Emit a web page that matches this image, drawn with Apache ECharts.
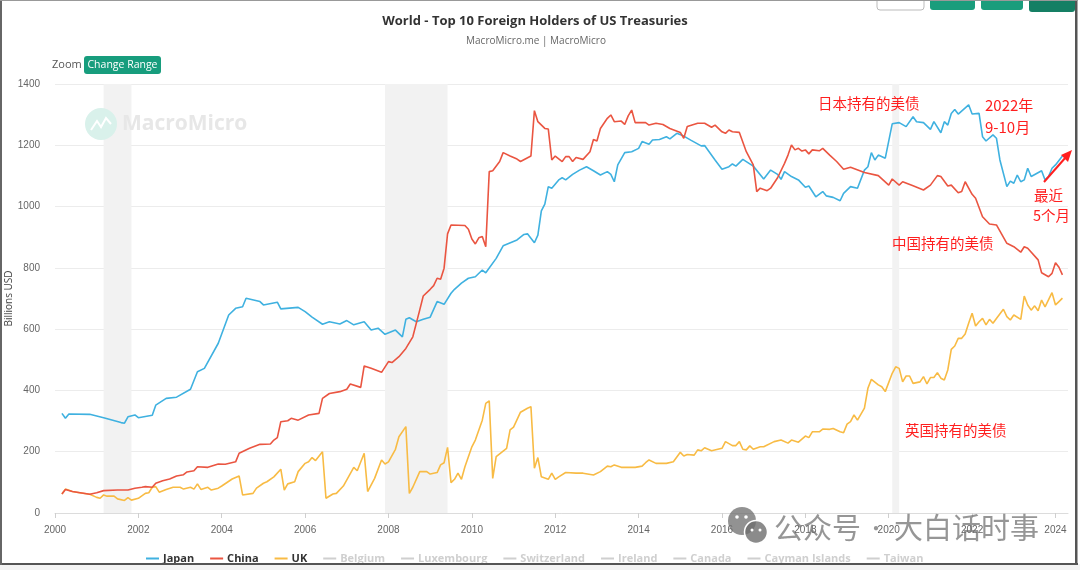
<!DOCTYPE html>
<html>
<head>
<meta charset="utf-8">
<script src="https://cdn.jsdelivr.net/npm/echarts@6/dist/echarts.min.js"></script>
<style>
html,body{margin:0;padding:0;background:#fff;}
#chart{width:1080px;height:570px;}
</style>
</head>
<body>
<div id="chart"></div>
<script>
// ---- data (Billions USD, monthly readings) ----
const japan = [
['2000-03',325],['2000-04',309],['2000-05',323],['2000-11',322],['2001-03',311],['2001-08',295],['2001-09',293],['2001-10',314],['2001-12',320],
['2002-01',311],['2002-05',319],['2002-06',352],['2002-09',374],['2002-12',378],['2003-04',404],['2003-06',461],['2003-08',472],['2003-12',554],
['2004-03',646],['2004-05',668],['2004-07',673],['2004-08',701],['2004-12',690],['2005-01',679],['2005-05',688],['2005-06',666],['2005-11',671],
['2006-01',657],['2006-03',639],['2006-06',616],['2006-08',624],['2006-11',617],['2007-01',628],['2007-03',614],['2007-06',624],['2007-08',597],
['2007-10',603],['2007-12',583],['2008-03',597],['2008-05',575],['2008-06',632],['2008-07',637],['2008-09',624],['2008-11',632],['2009-01',639],
['2009-03',690],['2009-05',681],['2009-07',717],['2009-08',730],['2009-10',750],['2009-12',766],['2010-02',771],['2010-04',793],['2010-05',784],
['2010-08',831],['2010-10',872],['2011-02',891],['2011-04',909],['2011-05',911],['2011-07',882],['2011-08',907],['2011-09',986],['2011-10',1008],
['2011-11',1065],['2011-12',1060],['2012-02',1087],['2012-03',1094],['2012-04',1087],['2012-06',1105],['2012-08',1119],['2012-10',1130],['2012-12',1117],
['2013-02',1103],['2013-04',1114],['2013-05',1105],['2013-06',1081],['2013-07',1136],['2013-09',1176],['2013-11',1179],['2014-01',1190],['2014-02',1212],
['2014-04',1203],['2014-05',1217],['2014-07',1219],['2014-09',1228],['2014-10',1221],['2014-12',1239],['2015-02',1230],['2015-04',1217],['2015-07',1198],
['2015-08',1199],['2015-11',1152],['2016-01',1122],['2016-03',1130],['2016-04',1139],['2016-05',1132],['2016-07',1154],['2016-10',1132],['2017-01',1090],
['2017-03',1119],['2017-05',1105],['2017-06',1089],['2017-07',1114],['2017-09',1098],['2017-11',1087],['2018-01',1063],['2018-02',1067],['2018-04',1032],
['2018-06',1049],['2018-07',1035],['2018-09',1030],['2018-11',1019],['2018-12',1043],['2019-02',1065],['2019-04',1060],['2019-06',1119],['2019-07',1130],
['2019-08',1176],['2019-09',1152],['2019-10',1168],['2019-12',1158],['2020-02',1270],['2020-04',1274],['2020-06',1261],['2020-08',1293],['2020-09',1277],
['2020-11',1274],['2021-01',1252],['2021-02',1277],['2021-04',1241],['2021-05',1277],['2021-06',1266],['2021-07',1304],['2021-08',1317],['2021-09',1302],
['2021-12',1332],['2022-01',1302],['2022-03',1304],['2022-04',1228],['2022-05',1214],['2022-07',1234],['2022-08',1223],['2022-09',1152],['2022-11',1065],
['2022-12',1083],['2023-01',1076],['2023-02',1103],['2023-03',1081],['2023-04',1087],['2023-05',1125],['2023-06',1098],['2023-09',1117],['2023-10',1087],
['2023-11',1098],['2023-12',1125],['2024-01',1136],['2024-03',1165]
];
const china = [
['2000-03',62],['2000-04',77],['2000-06',70],['2000-11',61],['2001-01',66],['2001-03',73],['2001-07',75],['2001-10',75],['2001-12',81],
['2002-02',84],['2002-03',86],['2002-05',84],['2002-06',97],['2002-08',105],['2002-10',111],['2002-12',121],['2003-02',125],['2003-03',134],
['2003-05',138],['2003-06',151],['2003-09',149],['2003-12',160],['2004-02',159],['2004-05',167],['2004-06',195],['2004-09',211],['2004-12',224],
['2005-03',225],['2005-04',238],['2005-05',246],['2005-06',298],['2005-08',301],['2005-09',309],['2005-11',303],['2006-02',320],['2006-05',325],
['2006-06',374],['2006-08',390],['2006-11',396],['2007-01',404],['2007-02',421],['2007-05',410],['2007-06',480],['2007-08',472],['2007-11',459],
['2008-01',494],['2008-02',491],['2008-04',510],['2008-06',537],['2008-08',575],['2008-10',663],['2008-11',708],['2009-01',730],['2009-02',742],
['2009-03',766],['2009-04',763],['2009-05',799],['2009-06',911],['2009-07',940],['2009-11',938],['2009-12',926],['2010-01',894],['2010-02',878],
['2010-03',898],['2010-04',902],['2010-05',869],['2010-06',1114],['2010-07',1117],['2010-09',1147],['2010-10',1176],['2010-12',1165],['2011-02',1155],
['2011-03',1147],['2011-06',1165],['2011-07',1313],['2011-08',1277],['2011-10',1255],['2011-11',1253],['2011-12',1152],['2012-01',1165],['2012-03',1147],
['2012-04',1163],['2012-05',1163],['2012-06',1147],['2012-07',1160],['2012-09',1154],['2012-11',1179],['2012-12',1219],['2013-01',1214],['2013-02',1255],
['2013-04',1288],['2013-05',1299],['2013-06',1277],['2013-08',1279],['2013-09',1268],['2013-10',1296],['2013-11',1315],['2013-12',1274],['2014-03',1274],
['2014-04',1266],['2014-06',1272],['2014-08',1268],['2014-10',1255],['2015-01',1242],['2015-02',1223],['2015-03',1261],['2015-06',1272],['2015-08',1272],
['2015-10',1259],['2015-11',1266],['2016-01',1244],['2016-02',1239],['2016-03',1250],['2016-04',1244],['2016-06',1242],['2016-08',1179],['2016-10',1136],
['2016-11',1049],['2016-12',1060],['2017-02',1052],['2017-03',1060],['2017-05',1094],['2017-07',1141],['2017-08',1168],['2017-09',1201],['2017-10',1185],
['2017-11',1190],['2017-12',1181],['2018-01',1185],['2018-02',1172],['2018-03',1185],['2018-05',1182],['2018-06',1190],['2018-08',1168],['2018-10',1147],
['2018-12',1122],['2019-02',1128],['2019-06',1111],['2019-10',1101],['2020-01',1070],['2020-02',1090],['2020-04',1070],['2020-05',1081],['2020-08',1068],
['2020-11',1054],['2021-01',1070],['2021-03',1101],['2021-04',1098],['2021-06',1067],['2021-07',1070],['2021-09',1045],['2021-10',1049],['2021-11',1081],
['2022-01',1040],['2022-02',1027],['2022-04',967],['2022-06',943],['2022-08',940],['2022-11',880],['2023-01',869],['2023-03',851],['2023-04',869],
['2023-05',864],['2023-08',826],['2023-09',784],['2023-11',771],['2023-12',782],['2024-01',817],['2024-02',802],['2024-03',777]
];
const uk = [
['2000-03',62],['2000-04',78],['2000-06',70],['2000-08',66],['2000-11',61],['2001-01',51],['2001-02',48],['2001-03',59],['2001-04',55],
['2001-06',55],['2001-07',46],['2001-09',41],['2001-10',50],['2001-11',42],['2002-01',48],['2002-03',64],['2002-04',66],['2002-05',84],
['2002-06',86],['2002-07',68],['2002-09',77],['2002-11',84],['2003-01',84],['2003-02',78],['2003-04',84],['2003-05',78],['2003-06',95],
['2003-07',77],['2003-09',84],['2003-10',75],['2003-12',81],['2004-01',88],['2004-04',111],['2004-06',121],['2004-07',59],['2004-10',64],
['2004-11',81],['2005-01',97],['2005-02',102],['2005-04',118],['2005-06',143],['2005-07',75],['2005-08',95],['2005-10',102],['2005-11',135],
['2006-01',162],['2006-02',167],['2006-03',181],['2006-04',171],['2006-06',200],['2006-07',48],['2006-09',62],['2006-10',64],['2006-12',88],
['2007-03',149],['2007-04',138],['2007-06',195],['2007-07',70],['2007-09',113],['2007-11',173],['2007-12',160],['2008-01',167],['2008-03',208],
['2008-04',249],['2008-06',282],['2008-07',64],['2008-08',84],['2008-10',135],['2008-12',135],['2009-01',127],['2009-03',132],['2009-04',157],
['2009-05',164],['2009-06',214],['2009-07',99],['2009-08',110],['2009-09',130],['2009-10',110],['2009-11',151],['2010-01',216],['2010-02',238],
['2010-04',303],['2010-05',358],['2010-06',366],['2010-07',113],['2010-08',184],['2010-09',193],['2010-11',211],['2010-12',271],['2011-01',280],
['2011-03',329],['2011-05',342],['2011-06',347],['2011-07',146],['2011-08',181],['2011-09',118],['2011-11',110],['2011-12',130],['2012-01',110],
['2012-02',118],['2012-04',132],['2012-07',130],['2012-09',130],['2012-12',124],['2013-02',135],['2013-04',153],['2013-05',151],['2013-06',157],
['2013-08',149],['2013-12',149],['2014-02',153],['2014-03',164],['2014-04',173],['2014-06',162],['2014-09',162],['2014-11',167],['2015-01',198],
['2015-02',186],['2015-03',191],['2015-05',189],['2015-06',206],['2015-07',203],['2015-08',213],['2015-10',203],['2016-01',211],['2016-02',233],
['2016-04',220],['2016-05',220],['2016-06',233],['2016-07',208],['2016-08',206],['2016-09',219],['2016-10',208],['2016-12',216],['2017-01',216],
['2017-04',233],['2017-06',238],['2017-08',228],['2017-09',238],['2017-11',231],['2018-01',251],['2018-02',246],['2018-03',265],['2018-05',265],
['2018-06',274],['2018-08',273],['2018-09',276],['2018-11',265],['2018-12',262],['2019-01',290],['2019-02',298],['2019-03',320],['2019-04',303],
['2019-06',342],['2019-07',407],['2019-08',436],['2019-10',418],['2019-11',412],['2019-12',396],['2020-02',456],['2020-03',477],['2020-04',472],
['2020-05',428],['2020-06',447],['2020-07',447],['2020-08',423],['2020-10',428],['2020-11',445],['2020-12',421],['2021-01',442],['2021-02',442],
['2021-03',458],['2021-04',440],['2021-05',434],['2021-06',467],['2021-07',534],['2021-08',545],['2021-09',570],['2021-10',570],['2021-11',584],
['2021-12',619],['2022-01',652],['2022-02',610],['2022-03',624],['2022-04',635],['2022-05',614],['2022-06',632],['2022-07',619],['2022-08',635],
['2022-10',665],['2022-11',641],['2022-12',630],['2023-01',646],['2023-03',632],['2023-04',708],['2023-05',679],['2023-06',662],['2023-07',676],
['2023-08',660],['2023-09',695],['2023-10',673],['2023-12',719],['2024-01',679],['2024-02',690],['2024-03',701]
];
const activeNames = ['Japan','China','UK'];
const hiddenNames = ['Belgium','Luxembourg','Switzerland','Ireland','Canada','Cayman Islands','Taiwan'];
const recessions = [['2001-03','2001-11'],['2007-12','2009-06'],['2020-02','2020-04']];
const yTicks = [0,200,400,600,800,1000,1200,1400];
const xYears = [2000,2002,2004,2006,2008,2010,2012,2014,2016,2018,2020,2022,2024];

// ---- helpers ----
function toYear(d){ const p = d.split('-').map(Number); return p[0] + (p[1]-1)/12; }
function pts(arr){ return arr.map(function(r){ return [toYear(r[0]), r[1]]; }); }

const chart = echarts.init(document.getElementById('chart'), null, {renderer:'canvas'});
const red = '#ff1f1f';
const FONT = '"Open Sans", "Noto Sans CJK SC", sans-serif';
const AX_FONT = 'Arial, "Liberation Sans", sans-serif';

const selected = {};
hiddenNames.forEach(function(n){ selected[n] = false; });

const series = [
  { name:'recession', type:'line', data:[], silent:true, z:1,
    markArea:{ silent:true, itemStyle:{color:'#f2f2f2'},
      data: recessions.map(function(r){ return [{xAxis: toYear(r[0])}, {xAxis: toYear(r[1])}]; }) } },
  { name:'Japan', type:'line', data:pts(japan), showSymbol:false, z:3, color:'#3fb1e0', lineStyle:{width:1.6} },
  { name:'China', type:'line', data:pts(china), showSymbol:false, z:4, color:'#ea5541', lineStyle:{width:1.6} },
  { name:'UK', type:'line', data:pts(uk), showSymbol:false, z:3, color:'#f8bb44', lineStyle:{width:1.6} }
];
hiddenNames.forEach(function(n){ series.push({ name:n, type:'line', data:[], showSymbol:false, color:'#cccccc' }); });

const option = {
  backgroundColor:'#ffffff',
  animation:false,
  grid:{ left:55, right:12, top:84, bottom:57, containLabel:false, outerBoundsMode:'none' },
  xAxis:{ type:'value', min:2000, max:2024.3, interval:2,
    axisLine:{ lineStyle:{ color:'#dcdcdc' } },
    axisTick:{ lineStyle:{ color:'#cfcfcf' }, length:5 },
    splitLine:{ show:false },
    axisLabel:{ color:'#666', fontSize:10, fontFamily:AX_FONT, margin:12,
      showMaxLabel:false,
      formatter:function(v){ return xYears.indexOf(v) >= 0 ? String(v) : ''; } } },
  yAxis:{ type:'value', min:yTicks[0], max:yTicks[yTicks.length-1], interval:200,
    name:'Billions USD', nameLocation:'middle', nameGap:41, nameMoveOverlap:false,
    nameTextStyle:{ color:'#444', fontSize:10, fontFamily:FONT },
    axisLine:{ show:false }, axisTick:{ show:false },
    splitLine:{ lineStyle:{ color:'#ececec', width:1.2 } },
    axisLabel:{ color:'#666', fontSize:10, fontFamily:AX_FONT, margin:15,
      formatter:function(v){ return String(v); } } },
  legend:{ data: activeNames.concat(hiddenNames), selected:selected, left:141, top:548,
    icon:'rect', itemWidth:13, itemHeight:2, itemGap:16,
    inactiveColor:'#cfcfcf',
    textStyle:{ fontSize:11, fontWeight:'bold', color:'#333', fontFamily:FONT, padding:[0,0,0,-1] } },
  series: series,
  graphic:[
    // title & subtitle
    { type:'text', x:535, y:21, z:10, style:{ text:'World - Top 10 Foreign Holders of US Treasuries', textAlign:'center', textVerticalAlign:'middle', font:'bold 13px "Open Sans", sans-serif', fill:'#333' } },
    { type:'text', x:536, y:41, z:10, style:{ text:'MacroMicro.me | MacroMicro', textAlign:'center', textVerticalAlign:'middle', font:'10px "Open Sans", sans-serif', fill:'#666' } },
    // zoom + button
    { type:'text', x:52, y:65, z:10, style:{ text:'Zoom', textVerticalAlign:'middle', font:'11px "Open Sans", sans-serif', fill:'#555' } },
    { type:'rect', shape:{ x:84, y:56, width:77, height:18, r:3 }, z:10, style:{ fill:'#179d7d' } },
    { type:'text', x:122.5, y:65, z:11, style:{ text:'Change Range', textAlign:'center', textVerticalAlign:'middle', font:'10.5px "Open Sans", sans-serif', fill:'#fff' } },
    // top-right partial buttons
    { type:'rect', shape:{ x:877, y:-12, width:47, height:22, r:3 }, z:10, style:{ fill:'#fff', stroke:'#bbb', lineWidth:1 } },
    { type:'rect', shape:{ x:930, y:-12, width:45, height:22, r:3 }, z:10, style:{ fill:'#1a9d7c' } },
    { type:'rect', shape:{ x:981, y:-12, width:42, height:22, r:3 }, z:10, style:{ fill:'#1a9d7c' } },
    { type:'rect', shape:{ x:1029, y:-12, width:46, height:24, r:3 }, z:10, style:{ fill:'#157f64' } },
    // MacroMicro watermark
    { type:'circle', shape:{ cx:101, cy:124, r:16 }, z:2, silent:true, style:{ fill:'#d9f1eb' } },
    { type:'polyline', shape:{ points:[[91,130],[97,121],[101,127],[106,118],[111,124]] }, z:2, silent:true, style:{ stroke:'#fff', lineWidth:2, fill:null } },
    { type:'text', x:122, y:124, z:2, silent:true, style:{ text:'MacroMicro', textVerticalAlign:'middle', font:'bold 21px "Open Sans", sans-serif', fill:'#e7e7e7' } },
    // red annotations
    { type:'text', x:818, y:103, z:12, style:{ text:'日本持有的美债', textVerticalAlign:'middle', font:'14.5px "Noto Sans CJK SC", sans-serif', fill:red } },
    { type:'text', x:985, y:105, z:12, style:{ text:'2022年', textVerticalAlign:'middle', font:'15px "Noto Sans CJK SC", sans-serif', fill:red } },
    { type:'text', x:985, y:127, z:12, style:{ text:'9-10月', textVerticalAlign:'middle', font:'15px "Noto Sans CJK SC", sans-serif', fill:red } },
    { type:'text', x:1034, y:195, z:12, style:{ text:'最近', textVerticalAlign:'middle', font:'14.5px "Noto Sans CJK SC", sans-serif', fill:red } },
    { type:'text', x:1033, y:215, z:12, style:{ text:'5个月', textVerticalAlign:'middle', font:'14.5px "Noto Sans CJK SC", sans-serif', fill:red } },
    { type:'text', x:892, y:243, z:12, style:{ text:'中国持有的美债', textVerticalAlign:'middle', font:'14.5px "Noto Sans CJK SC", sans-serif', fill:red } },
    { type:'text', x:905, y:430, z:12, style:{ text:'英国持有的美债', textVerticalAlign:'middle', font:'14.5px "Noto Sans CJK SC", sans-serif', fill:red } },
    { type:'line', shape:{ x1:1044, y1:182, x2:1066, y2:157 }, z:12, style:{ stroke:red, lineWidth:2 } },
    { type:'polygon', shape:{ points:[[1072,150],[1061,155],[1068,162]] }, z:12, style:{ fill:red } },
    // WeChat watermark
    { type:'circle', shape:{ cx:742, cy:521, r:14 }, z:13, silent:true, style:{ fill:'rgba(110,110,110,0.75)' } },
    { type:'circle', shape:{ cx:756, cy:532, r:11.5 }, z:13, silent:true, style:{ fill:'rgba(110,110,110,0.8)', stroke:'#fff', lineWidth:1.5 } },
    { type:'circle', shape:{ cx:737, cy:517, r:1.8 }, z:14, silent:true, style:{ fill:'#fff' } },
    { type:'circle', shape:{ cx:746, cy:517, r:1.8 }, z:14, silent:true, style:{ fill:'#fff' } },
    { type:'circle', shape:{ cx:752, cy:530, r:1.5 }, z:14, silent:true, style:{ fill:'#fff' } },
    { type:'circle', shape:{ cx:760, cy:530, r:1.5 }, z:14, silent:true, style:{ fill:'#fff' } },
    { type:'text', x:774, y:528, z:13, silent:true, style:{ text:'公众号', textVerticalAlign:'middle', font:'29px "Noto Sans CJK SC", sans-serif', fill:'rgba(110,110,110,0.72)' } },
    { type:'text', x:876, y:528, z:13, silent:true, style:{ text:'·', textAlign:'center', textVerticalAlign:'middle', font:'20px "Noto Sans CJK SC", sans-serif', fill:'rgba(110,110,110,0.72)' } },
    { type:'text', x:894, y:528, z:13, silent:true, style:{ text:'大白话时事', textVerticalAlign:'middle', font:'29px "Noto Sans CJK SC", sans-serif', fill:'rgba(110,110,110,0.72)' } },
    // screenshot frame
    { type:'rect', shape:{ x:0, y:564, width:1080, height:6 }, z:20, silent:true, style:{ fill:'#f3f3f3' } },
    { type:'rect', shape:{ x:0, y:563, width:1078, height:2 }, z:21, silent:true, style:{ fill:'#555' } },
    { type:'rect', shape:{ x:0, y:0, width:2, height:565 }, z:21, silent:true, style:{ fill:'#666' } },
    { type:'rect', shape:{ x:1075, y:0, width:2.5, height:565 }, z:21, silent:true, style:{ fill:'#555' } },
    { type:'rect', shape:{ x:0, y:0, width:1078, height:1 }, z:21, silent:true, style:{ fill:'#999' } }
  ]
};
chart.setOption(option);
</script>
</body>
</html>
